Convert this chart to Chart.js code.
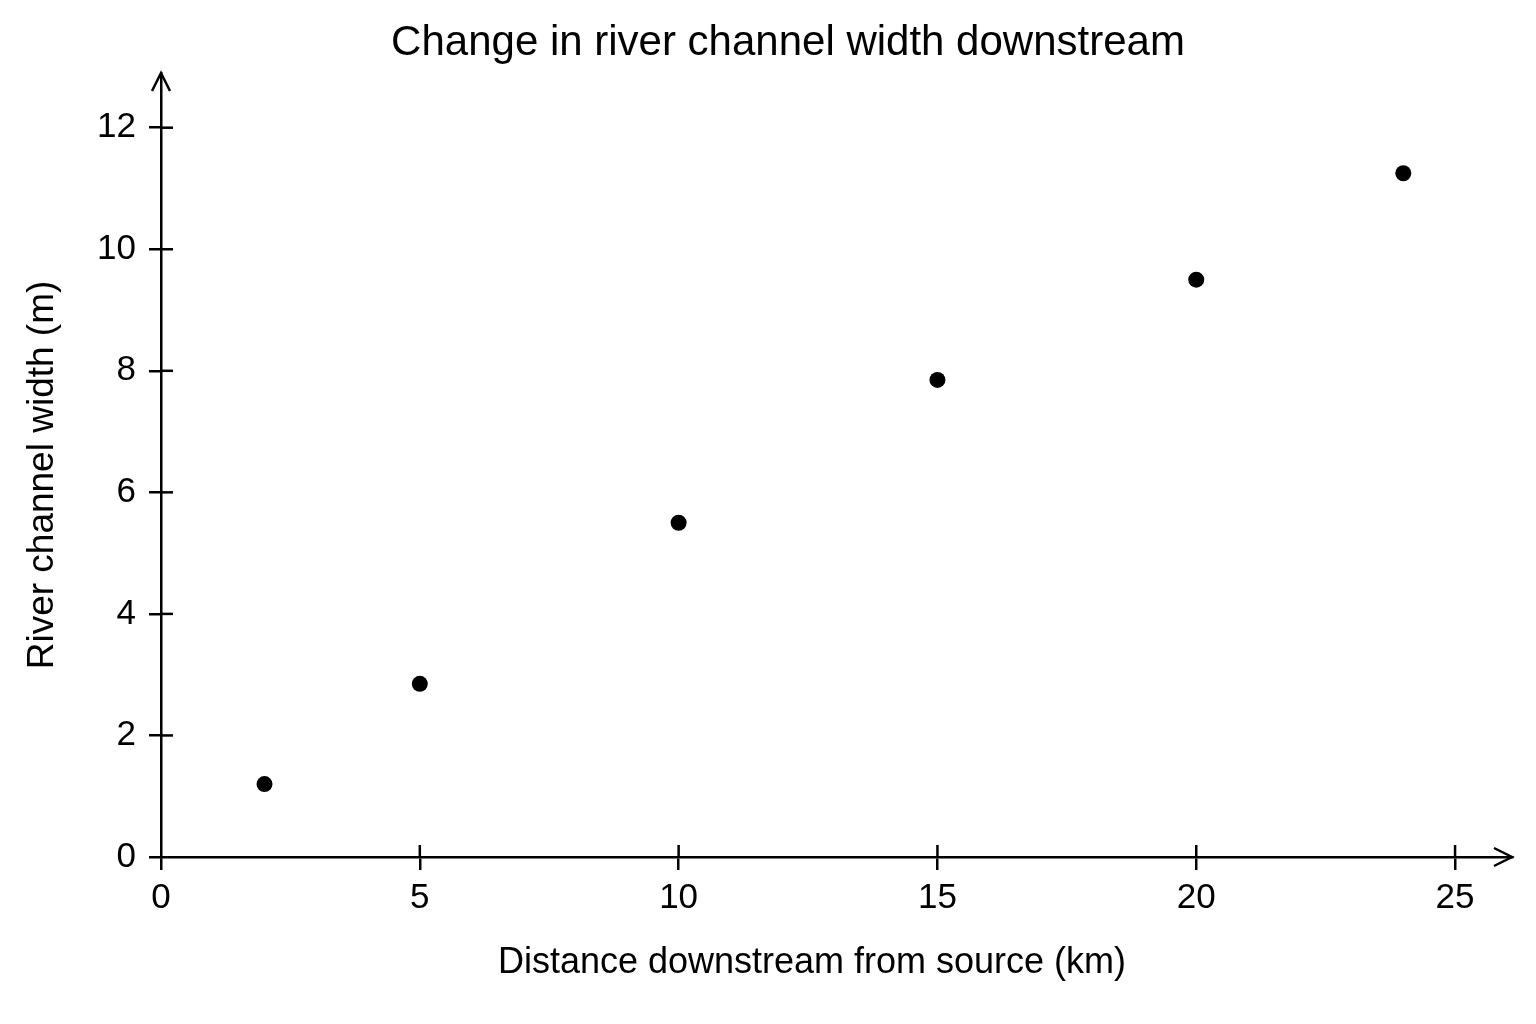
<!DOCTYPE html>
<html>
<head>
<meta charset="utf-8">
<script src="https://cdn.jsdelivr.net/npm/chart.js@4.4.1/dist/chart.umd.min.js"></script>
<style>
html,body{margin:0;padding:0;background:#fff;}
#wrap{width:1536px;height:1024px;}
</style>
</head>
<body>
<div id="wrap"><canvas id="c" width="1536" height="1024"></canvas></div>
<script>
const chartTitle = "Change in river channel width downstream";
const xTitle = "Distance downstream from source (km)";
const yTitle = "River channel width (m)";
const distanceKm = [2, 5, 10, 15, 20, 24];
const widthM = [1.2, 2.85, 5.5, 7.85, 9.5, 11.25];
const xTicks = [0, 5, 10, 15, 20, 25];
const yTicks = [0, 2, 4, 6, 8, 10, 12];

const FONT = "'Liberation Sans', Arial, sans-serif";
const LW = 2.5;

const axisDecor = {
  id: 'axisDecor',
  afterDatasetsDraw(chart) {
    const ctx = chart.ctx;
    const xs = chart.scales.x, ys = chart.scales.y;
    const x0 = xs.getPixelForValue(0), y0 = ys.getPixelForValue(0);
    const ca = chart.chartArea;
    ctx.save();
    ctx.strokeStyle = '#000';
    ctx.lineWidth = LW;
    ctx.lineCap = 'butt';
    // inner tick halves
    xTicks.forEach(v => {
      if (v === 0) return;
      const px = xs.getPixelForValue(v);
      ctx.beginPath(); ctx.moveTo(px, y0); ctx.lineTo(px, y0 - 12); ctx.stroke();
    });
    yTicks.forEach(v => {
      if (v === 0) return;
      const py = ys.getPixelForValue(v);
      ctx.beginPath(); ctx.moveTo(x0, py); ctx.lineTo(x0 + 12, py); ctx.stroke();
    });
    // arrow heads
    ctx.lineJoin = 'miter';
    ctx.beginPath();
    ctx.moveTo(x0 - 9, ca.top + 18); ctx.lineTo(x0, ca.top); ctx.lineTo(x0 + 9, ca.top + 18);
    ctx.stroke();
    ctx.beginPath();
    ctx.moveTo(ca.right - 18, y0 - 9); ctx.lineTo(ca.right, y0); ctx.lineTo(ca.right - 18, y0 + 9);
    ctx.stroke();
    // titles
    ctx.fillStyle = '#000';
    ctx.textAlign = 'center';
    ctx.textBaseline = 'middle';
    ctx.font = "42px " + FONT;
    ctx.fillText(chartTitle, 788, 43);
    ctx.font = "36px " + FONT;
    ctx.fillText(xTitle, 812, 963);
    ctx.translate(43, 475);
    ctx.rotate(-Math.PI / 2);
    ctx.font = "37px " + FONT;
    ctx.fillText(yTitle, 0, 0);
    ctx.restore();
  }
};

new Chart(document.getElementById('c'), {
  type: 'scatter',
  data: {
    datasets: [{
      data: distanceKm.map((d, i) => ({x: d, y: widthM[i]})),
      backgroundColor: '#000',
      borderColor: '#000',
      pointRadius: 8,
      pointHoverRadius: 8,
      borderWidth: 0
    }]
  },
  options: {
    responsive: false,
    animation: false,
    events: [],
    layout: { padding: { left: 0, right: 24, top: 73, bottom: 0 }, autoPadding: false },
    plugins: {
      legend: { display: false },
      tooltip: { enabled: false },
      title: { display: false }
    },
    scales: {
      x: {
        type: 'linear',
        min: 0, max: 26.1,
        afterFit(s) { s.height = 167; },
        afterBuildTicks(s) { s.ticks = xTicks.map(v => ({value: v})); },
        ticks: { color: '#000', font: { family: FONT, size: 35 }, padding: 7, maxRotation: 0, includeBounds: false },
        grid: { drawOnChartArea: false, drawTicks: true, tickLength: 13, color: '#000', lineWidth: LW, tickWidth: LW },
        border: { display: true, color: '#000', width: LW },
        title: { display: false }
      },
      y: {
        type: 'linear',
        min: 0, max: 12.9,
        afterFit(s) { s.width = 161; },
        afterBuildTicks(s) { s.ticks = yTicks.map(v => ({value: v})); },
        ticks: { color: '#000', font: { family: FONT, size: 35 }, padding: 13, includeBounds: false },
        grid: { drawOnChartArea: false, drawTicks: true, tickLength: 12, color: '#000', lineWidth: LW, tickWidth: LW },
        border: { display: true, color: '#000', width: LW },
        title: { display: false }
      }
    }
  },
  plugins: [axisDecor]
});
</script>
</body>
</html>
